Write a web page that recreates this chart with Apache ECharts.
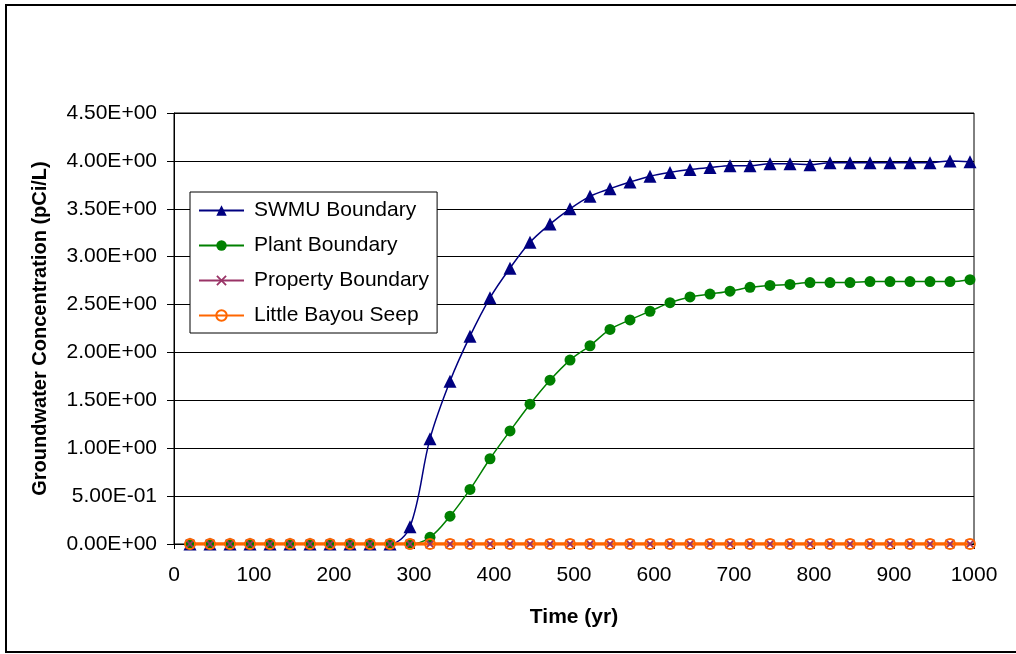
<!DOCTYPE html>
<html>
<head>
<meta charset="utf-8">
<script src="https://cdn.jsdelivr.net/npm/echarts@6/dist/echarts.min.js"></script>
<style>
html,body{margin:0;padding:0;background:#fff;}
#chart{width:1016px;height:654px;}
</style>
</head>
<body>
<div id="chart"></div>
<script>
// Time points (yr)
var timeYears = [20,45,70,95,120,145,170,195,220,245,270,295,320,345,370,395,420,445,470,495,
                 520,545,570,595,620,645,670,695,720,745,770,795,820,845,870,895,920,945,970,995];
// Concentrations (pCi/L)
var swmuBoundary = [0,0,0,0,0,0,0,0,0,0,0,0.18,1.10,1.70,2.17,2.57,2.88,3.15,3.34,3.50,
                    3.63,3.71,3.78,3.84,3.88,3.91,3.93,3.95,3.95,3.97,3.97,3.96,3.98,3.98,3.98,3.98,3.98,3.98,4.00,3.99];
var plantBoundary = [0,0,0,0,0,0,0,0,0,0,0,0,0.07,0.29,0.57,0.89,1.18,1.46,1.71,1.92,
                     2.07,2.24,2.34,2.43,2.52,2.58,2.61,2.64,2.68,2.70,2.71,2.73,2.73,2.73,2.74,2.74,2.74,2.74,2.74,2.76];
var propertyBoundary = [0,0,0,0,0,0,0,0,0,0,0,0,0,0,0,0,0,0,0,0,0,0,0,0,0,0,0,0,0,0,0,0,0,0,0,0,0,0,0,0];
var littleBayouSeep = [0,0,0,0,0,0,0,0,0,0,0,0,0,0,0,0,0,0,0,0,0,0,0,0,0,0,0,0,0,0,0,0,0,0,0,0,0,0,0,0];
var seriesNames = ['SWMU Boundary','Plant Boundary','Property Boundary','Little Bayou Seep'];
var yTickLabels = ['0.00E+00','5.00E-01','1.00E+00','1.50E+00','2.00E+00','2.50E+00','3.00E+00','3.50E+00','4.00E+00','4.50E+00'];
var xTickLabels = ['0','100','200','300','400','500','600','700','800','900','1000'];

function pairs(ys){ return ys.map(function(v,i){ return [timeYears[i], v]; }); }

var FONT = '"Liberation Sans", Arial, sans-serif';
var xMark = 'path://M0,1.2 L1.2,0 L5,3.8 L8.8,0 L10,1.2 L6.2,5 L10,8.8 L8.8,10 L5,6.2 L1.2,10 L0,8.8 L3.8,5 Z';

var chart = echarts.init(document.getElementById('chart'), null, {renderer:'canvas'});
chart.setOption({
  animation:false,
  backgroundColor:'#fff',
  textStyle:{fontFamily:FONT},
  graphic:[{
    type:'rect', shape:{x:6,y:5,width:1030,height:647},
    style:{fill:'none', stroke:'#000', lineWidth:2}, z:-10
  }],
  grid:{left:174, top:113, width:800, height:431, show:true, borderColor:'#000', borderWidth:1, backgroundColor:'#fff'},
  legend:{
    orient:'vertical', left:190, top:192,
    backgroundColor:'#fff', borderColor:'#000', borderWidth:1,
    padding:[8,8,7,8], itemWidth:45, itemHeight:13, itemGap:14,
    textStyle:{fontSize:21, color:'#000', fontFamily:FONT, lineHeight:21, padding:[0,0,0,5]},
    data:seriesNames
  },
  xAxis:{
    type:'value', min:0, max:1000, interval:100,
    name:'Time (yr)', nameLocation:'middle', nameGap:63,
    nameTextStyle:{fontSize:21, fontWeight:'bold', color:'#000', fontFamily:FONT},
    axisLine:{show:true, lineStyle:{color:'#000', width:1}},
    axisTick:{show:true, inside:false, length:5, lineStyle:{color:'#000'}},
    axisLabel:{fontSize:21, color:'#000', margin:21, fontFamily:FONT,
      formatter:function(v){ return xTickLabels[Math.round(v/100)]; }},
    splitLine:{show:false}
  },
  yAxis:{
    type:'value', min:0, max:4.5, interval:0.5,
    name:'Groundwater Concentration (pCi/L)', nameLocation:'middle', nameGap:124, nameRotate:90,
    nameTextStyle:{fontSize:20, fontWeight:'bold', color:'#000', fontFamily:FONT},
    axisLine:{show:true, lineStyle:{color:'#000', width:1}},
    axisTick:{show:true, inside:false, length:7, lineStyle:{color:'#000'}},
    axisLabel:{fontSize:21, color:'#000', margin:17, fontFamily:FONT,
      formatter:function(v){ return yTickLabels[Math.round(v/0.5)]; }},
    splitLine:{show:true, lineStyle:{color:'#000', width:1}}
  },
  series:[
    {name:seriesNames[0], type:'line', data:pairs(swmuBoundary), smooth:0.35,
     symbol:'triangle', symbolSize:13, color:'#000080',
     lineStyle:{color:'#000080', width:1.5}, itemStyle:{color:'#000080'}},
    {name:seriesNames[1], type:'line', data:pairs(plantBoundary), smooth:0.35,
     symbol:'circle', symbolSize:11, color:'#008000',
     lineStyle:{color:'#008000', width:1.5}, itemStyle:{color:'#008000'}},
    {name:seriesNames[2], type:'line', data:pairs(propertyBoundary),
     symbol:xMark, symbolSize:10, color:'#993366',
     lineStyle:{color:'#993366', width:1}, itemStyle:{color:'#993366'}},
    {name:seriesNames[3], type:'line', data:pairs(littleBayouSeep),
     symbol:'circle', symbolSize:10, color:'#FF6600',
     lineStyle:{color:'#FF6600', width:3.5},
     itemStyle:{color:'rgba(255,255,255,0)', borderColor:'#FF6600', borderWidth:1.8}}
  ]
});
</script>
</body>
</html>
